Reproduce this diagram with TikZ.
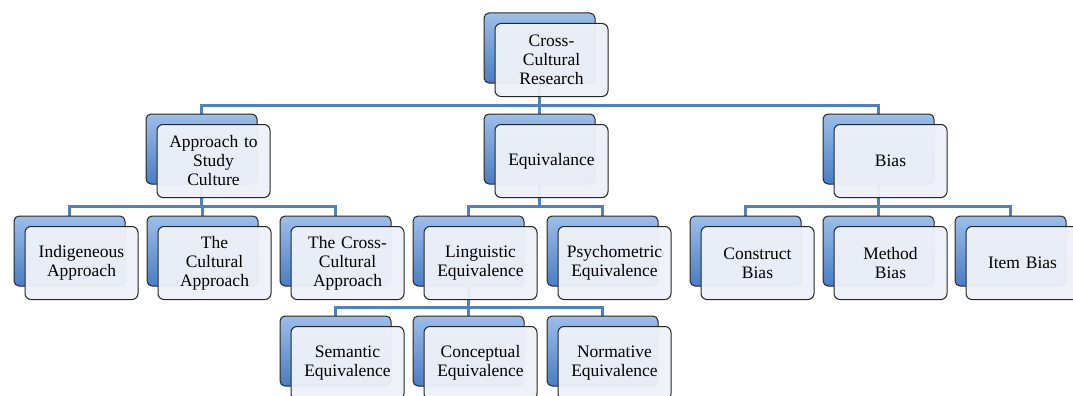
\documentclass[tikz,border=0pt]{standalone}
\usepackage{fontspec}
\setmainfont{Liberation Serif}
\usetikzlibrary{positioning,calc,backgrounds}
\definecolor{boxblue}{HTML}{4F81BD}
\definecolor{boxlight}{HTML}{9CBEEA}
\definecolor{boxdark}{HTML}{4A7DC2}
\definecolor{frontfill}{HTML}{EEF1F7}
\definecolor{edgegray}{HTML}{262626}
\tikzset{
backbox/.style={
  draw=edgegray, line width=1pt, rounded corners=5pt,
  minimum width=111pt, minimum height=70pt, inner sep=0pt,
  top color=boxlight, bottom color=boxdark
  },
frontbox/.style={
  draw=edgegray, line width=1pt, rounded corners=6pt,
  fill=frontfill, fill opacity=0.96, text opacity=1,
  minimum width=113pt, minimum height=73pt, inner sep=0pt,
  text width=108pt, align=center,
  font=\fontsize{17.5}{19}\selectfont
  },
conn/.style={draw=boxblue, line width=2.6pt}
}

\begin{document}
\begin{tikzpicture}[x=1pt,y=1pt]
\useasboundingbox (0,0) rectangle (1073,-396);
% top
\node[backbox] (rootb) at (539.5,-48) {};
\node[frontbox] (root) at ([shift={(12pt,-12pt)}]rootb.center) {Cross-\\Cultural\\Research};

% first level
\node[backbox] (appb) at (201.5,-149) {};
\node[frontbox] (app) at ([shift={(12pt,-12pt)}]appb.center) {Approach to\\Study\\Culture};
\node[backbox] (equb) at (539.5,-149) {};
\node[frontbox] (equ) at ([shift={(12pt,-12pt)}]equb.center) {Equivalance};
\node[backbox] (biasb) at (878.5,-149) {};
\node[frontbox] (bias) at ([shift={(12pt,-12pt)}]biasb.center) {Bias};

% second level
\node[backbox] (indb) at (69.5,-251) {};
\node[frontbox] (ind) at ([shift={(12pt,-12pt)}]indb.center) {Indigeneous\\Approach};
\node[backbox] (cultb) at (202.5,-251) {};
\node[frontbox] (cult) at ([shift={(12pt,-12pt)}]cultb.center) {The\\Cultural\\Approach};
\node[backbox] (crossb) at (335.5,-251) {};
\node[frontbox] (cross) at ([shift={(12pt,-12pt)}]crossb.center) {The Cross-\\Cultural\\Approach};
\node[backbox] (lingb) at (468.5,-251) {};
\node[frontbox] (ling) at ([shift={(12pt,-12pt)}]lingb.center) {Linguistic\\Equivalence};
\node[backbox] (psyb) at (602.5,-251) {};
\node[frontbox] (psy) at ([shift={(12pt,-12pt)}]psyb.center) {Psychometric\\Equivalence};
\node[backbox] (consb) at (745.5,-251) {};
\node[frontbox] (cons) at ([shift={(12pt,-12pt)}]consb.center) {Construct\\Bias};
\node[backbox] (methb) at (878.5,-251) {};
\node[frontbox] (meth) at ([shift={(12pt,-12pt)}]methb.center) {Method\\Bias};
\node[backbox] (itemb) at (1010.5,-251) {};
\node[frontbox] (item) at ([shift={(12pt,-12pt)}]itemb.center) {Item Bias};

% third level
\node[backbox] (semb) at (335.5,-351) {};
\node[frontbox] (sem) at ([shift={(12pt,-12pt)}]semb.center) {Semantic\\Equivalence};
\node[backbox] (concb) at (468.5,-351) {};
\node[frontbox] (conc) at ([shift={(12pt,-12pt)}]concb.center) {Conceptual\\Equivalence};
\node[backbox] (normb) at (602.5,-351) {};
\node[frontbox] (norm) at ([shift={(12pt,-12pt)}]normb.center) {Normative\\Equivalence};

% the connectors
\begin{scope}[on background layer]
\fill[white] (0,0) rectangle (1073,-396);
\foreach \kid in {appb,equb,biasb}
  \draw[conn] (rootb.center) |- ($(root.south)!0.5!(\kid.north)$) -| (\kid.center);
\foreach \kid in {indb,cultb,crossb}
  \draw[conn] (appb.center) |- ($(app.south)!0.5!(\kid.north)$) -| (\kid.center);
\foreach \kid in {lingb,psyb}
  \draw[conn] (equb.center) |- ($(equ.south)!0.5!(\kid.north)$) -| (\kid.center);
\foreach \kid in {consb,methb,itemb}
  \draw[conn] (biasb.center) |- ($(bias.south)!0.5!(\kid.north)$) -| (\kid.center);
\foreach \kid in {semb,concb,normb}
  \draw[conn] (lingb.center) |- ($(ling.south)!0.5!(\kid.north)$) -| (\kid.center);
\end{scope}
\end{tikzpicture}
\end{document}
